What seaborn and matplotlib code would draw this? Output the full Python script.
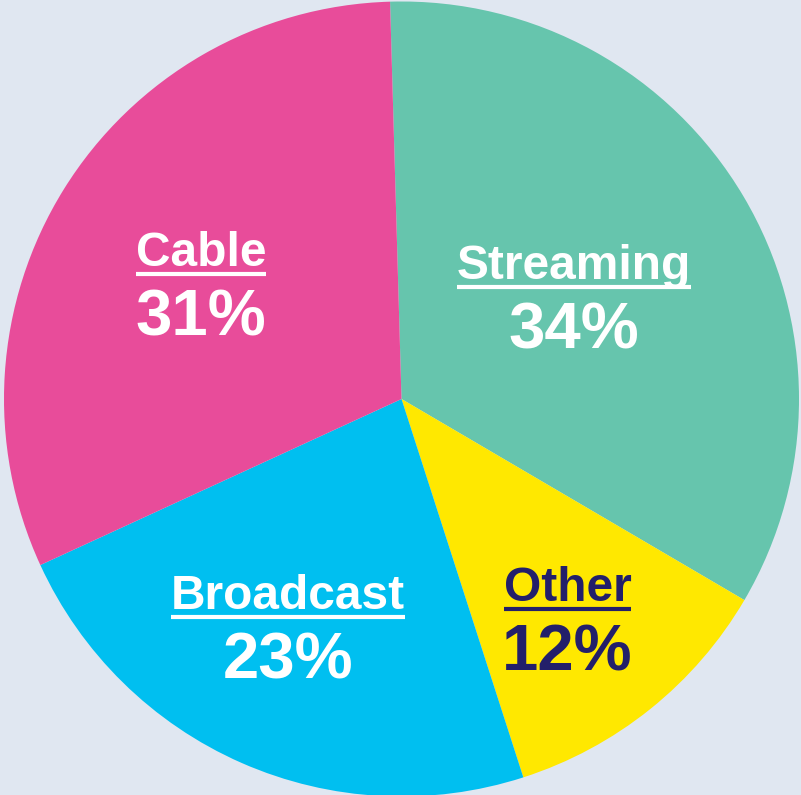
import numpy as np
import matplotlib
matplotlib.use("Agg")
import matplotlib.pyplot as plt
import seaborn as sns
from matplotlib.lines import Line2D

# data (clockwise from the top)
categories = ["Streaming", "Other", "Broadcast", "Cable"]
shares = [33.9, 11.6, 23.1, 31.4]
colors = ["#66c5ad", "#ffe800", "#00bff0", "#e84c9a"]
text_colors = ["white", "#231f6a", "white", "white"]
label_dist = [0.505, 0.693, 0.640, 0.582]
label_turn = [0.0, -1.7, -2.7, 2.0]  # nudge from the wedge middle, degrees

bg = "#e0e7f1"
sns.set_style("white", {"figure.facecolor": bg, "axes.facecolor": bg})
plt.rcParams["font.family"] = ["Liberation Sans", "DejaVu Sans"]

fig = plt.figure(figsize=(8.01, 7.95), dpi=100)
ax = fig.add_axes([4 / 801, -1.5 / 795, 795 / 801, 795 / 795])
ax.set_facecolor(bg)

wedges, _ = ax.pie(shares, colors=colors, startangle=91.65, counterclock=False,
                   radius=1.0, wedgeprops=dict(linewidth=0))
ax.set_xlim(-1, 1)
ax.set_ylim(-1, 1)
ax.axis("off")

labels = []
for w, cat, val, tc, d, turn in zip(wedges, categories, shares, text_colors,
                                     label_dist, label_turn):
    mid = np.deg2rad((w.theta1 + w.theta2) / 2 + turn)
    cx, cy = d * np.cos(mid), d * np.sin(mid)
    t = ax.text(cx, cy + 0.045, cat, ha="center", va="baseline",
                fontsize=34.5, fontweight="bold", color=tc)
    ax.text(cx, cy - 0.131, f"{val:.0f}%", ha="center", va="baseline",
            fontsize=47, fontweight="bold", color=tc)
    labels.append((t, cy + 0.045, tc))

# underline the category names
fig.canvas.draw()
renderer = fig.canvas.get_renderer()
for t, base, tc in labels:
    bb = t.get_window_extent(renderer)
    x0, _ = ax.transData.inverted().transform((bb.x0, 0))
    x1, _ = ax.transData.inverted().transform((bb.x1, 0))
    y = base - 8 / 397.5
    ax.add_line(Line2D([x0, x1], [y, y], color=tc, linewidth=3, solid_capstyle="butt"))

fig.savefig("out.png", dpi=100, facecolor=bg)
